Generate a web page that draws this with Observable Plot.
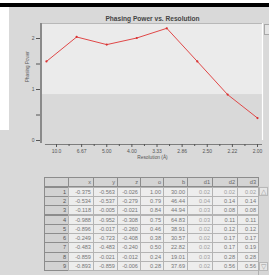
<!DOCTYPE html>
<html><head><meta charset="utf-8">
<script src="https://cdn.jsdelivr.net/npm/d3@7"></script>
<script src="https://cdn.jsdelivr.net/npm/@observablehq/plot@0.6"></script>
<style>
html,body{margin:0;padding:0;background:#d9d9d9;overflow:hidden;}
#root{position:relative;width:269px;height:275px;background:#d9d9d9;font-family:"Liberation Sans",Arial,sans-serif;}
.abs{position:absolute;box-sizing:border-box;}
.cell{position:absolute;box-sizing:border-box;font-size:5.6px;line-height:9px;text-align:right;padding-right:2px;white-space:nowrap;overflow:hidden;}
</style></head>
<body><div id="root"></div>
<script>
// ---- chart data ----
const resolution = [12.5, 7.14, 5.0, 3.85, 3.13, 2.63, 2.27, 2.0];
const phasingPower = [1.55, 2.03, 1.88, 2.01, 2.20, 1.55, 0.90, 0.44];
const xTickLabels = ["10.0", "6.67", "5.00", "4.00", "3.33", "2.86", "2.50", "2.22", "2.00"];
const xTickValues = [0.10, 0.15, 0.20, 0.25, 0.30, 0.35, 0.40, 0.45, 0.50];
const xMinorTicks = [0.125, 0.175, 0.225, 0.275, 0.325, 0.375, 0.425, 0.475];
const yTicks = [0, 0.5, 1, 1.5, 2];
// ---- table data ----
const colNames = ["", "x", "y", "z", "o", "b", "d1", "d2", "d3"];
const rowIds = [1, 2, 3, 4, 5, 6, 7, 8, 9];
const colX = ["-0.375", "-0.534", "-0.118", "-0.988", "-0.896", "-0.249", "-0.483", "-0.859", "-0.893"];
const colY = ["-0.563", "-0.537", "-0.005", "-0.952", "-0.017", "-0.723", "-0.483", "-0.021", "-0.859"];
const colZ = ["-0.026", "-0.279", "-0.021", "-0.308", "-0.260", "-0.408", "-0.240", "-0.012", "-0.006"];
const colO = ["1.00", "0.79", "0.84", "0.75", "0.46", "0.38", "0.50", "0.24", "0.28"];
const colB = ["30.00", "46.44", "44.94", "64.83", "38.91", "30.57", "22.82", "19.01", "37.69"];
const colD1 = ["0.02", "0.04", "0.03", "0.03", "0.02", "0.02", "0.02", "0.03", "0.02"];
const colD2 = ["0.02", "0.14", "0.08", "0.11", "0.12", "0.17", "0.17", "0.28", "0.56"];
const colD3 = ["0.02", "0.14", "0.08", "0.11", "0.12", "0.17", "0.19", "0.28", "0.56"];

const root = document.getElementById("root");
function box(l,t,w,h,css){const d=document.createElement("div");d.className="abs";d.style.cssText=`left:${l}px;top:${t}px;width:${w}px;height:${h}px;`+css;root.appendChild(d);return d;}
// window chrome
box(0,0,269,3,"background:#ffffff;");
box(0,3,269,4,"background:#000000;");
box(0,7,9,123,"background:#ffffff;");

// ---- plot ----
const W = 260, H = 158;
const mL = 33, mR = 7, mT = 16, mB = 25;
const pxPerX = 201/0.4;           // pixels per unit of 1/d
const xLo = 0.1 - (47 - mL)/pxPerX;
const xHi = 0.1 + (W - mR - 47)/pxPerX;
const yTop = 2 + (31 - mT)/51;
const data = resolution.map((r,i)=>({inv:1/r, pp:phasingPower[i]}));
const fmt = new Map(xTickValues.map((v,i)=>[v, xTickLabels[i]]));

const plot = Plot.plot({
  width: W, height: H,
  marginLeft: mL, marginRight: mR, marginTop: mT, marginBottom: mB,
  style: {background: "transparent", fontFamily: "'Liberation Sans', Arial, sans-serif", overflow: "visible"},
  x: {domain: [xLo, xHi]},
  y: {domain: [0, yTop]},
  marks: [
    Plot.rect([{}], {x1: xLo, x2: xHi, y1: 0.9, y2: yTop, fill: "#ebebeb"}),
    Plot.ruleY([yTop], {stroke: "#b8b8b8", strokeWidth: 1}),
    Plot.ruleX([xHi], {stroke: "#ffffff", strokeWidth: 1.2}),
    Plot.ruleX([xLo], {y1: -0.06, y2: yTop, stroke: "#8a8a8a", strokeWidth: 2, dx: -1.5}),
    Plot.ruleY([0], {x1: 0.078, x2: xHi, stroke: "#666", strokeWidth: 0.8, dy: 4}),
    Plot.axisX({ticks: xTickValues, tickFormat: d => fmt.get(d), tickSize: 3, tickPadding: 1.5, dy: 4, fontSize: 5, stroke: "#555", fill: "#555", label: null}),
    Plot.axisX({ticks: xMinorTicks, tickFormat: () => "", tickSize: 2, dy: 4, stroke: "#555", label: null}),
    Plot.axisY({ticks: yTicks, tickFormat: d => Number.isInteger(d) ? d : "", tickSize: 4, tickPadding: 2, dx: -2, fontSize: 5, stroke: "#555", fill: "#555", label: null}),
    Plot.text(["Phasing Power vs. Resolution"], {frameAnchor: "top", dy: -7, fontSize: 6.6, fontWeight: "bold", fill: "#444"}),
    Plot.text(["Resolution (Å)"], {frameAnchor: "bottom", dy: 18, fontSize: 4.8, fill: "#555"}),
    Plot.text(["Phasing Power"], {frameAnchor: "left", dx: -15, rotate: -90, fontSize: 4.6, fill: "#555"}),
    Plot.line(data, {x: "inv", y: "pp", stroke: "#e04848", strokeWidth: 1}),
    Plot.dot(data, {x: "inv", y: "pp", r: 1.1, fill: "#d83030", stroke: "none"})
  ]
});
plot.style.position = "absolute";
plot.style.left = "9px";
plot.style.top = "7px";
root.appendChild(plot);

// small scroll element on right of plot
box(264,24,6,11,"background:#e4e4e4;border:1px solid #a8a8a8;border-right:none;");

// ---- table ----
const edges = [44, 68, 93, 117, 140, 163, 187, 212, 237, 258];
const cols = [rowIds.map(String), colX, colY, colZ, colO, colB, colD1, colD2, colD3];
const top0 = 177, headH = 9.6, rowH = 9.3;
for (let c = 0; c < colNames.length; c++) {
  const d = document.createElement("div");
  d.className = "cell";
  d.style.cssText += `left:${edges[c]}px;top:${top0}px;width:${edges[c+1]-edges[c]+1}px;height:${headH}px;background:#d4d4d4;border:1px solid #8c8c8c;color:#666;`;
  d.textContent = colNames[c];
  root.appendChild(d);
}
for (let r = 0; r < rowIds.length; r++) {
  const t = top0 + headH + r*rowH;
  for (let c = 0; c < cols.length; c++) {
    const d = document.createElement("div");
    d.className = "cell";
    const isHead = c === 0;
    const light = c === 6 || (r === 0 && c >= 7);
    d.style.cssText += `left:${edges[c]}px;top:${t}px;width:${edges[c+1]-edges[c]+1}px;height:${rowH+1}px;` +
      (isHead ? "background:#d2d2d2;border:1px solid #8c8c8c;color:#555;"
              : `background:#ededed;border:1px solid #b4b4b4;color:${light ? "#a0a0a0" : "#777"};`);
    d.textContent = cols[c][r];
    root.appendChild(d);
  }
}
// table scrollbar
box(258,186,11,89,"background:#d6d6d6;border-left:1px solid #b0b0b0;");
const up = box(259,187,9,9,"background:#e6e6e6;border:1px solid #b8b8b8;color:#999;font-size:7px;line-height:8px;text-align:center;");
up.textContent = "△";
const dn = box(259,262,9,9,"background:#e6e6e6;border:1px solid #b8b8b8;color:#999;font-size:7px;line-height:8px;text-align:center;");
dn.textContent = "▽";
</script>
</body></html>
